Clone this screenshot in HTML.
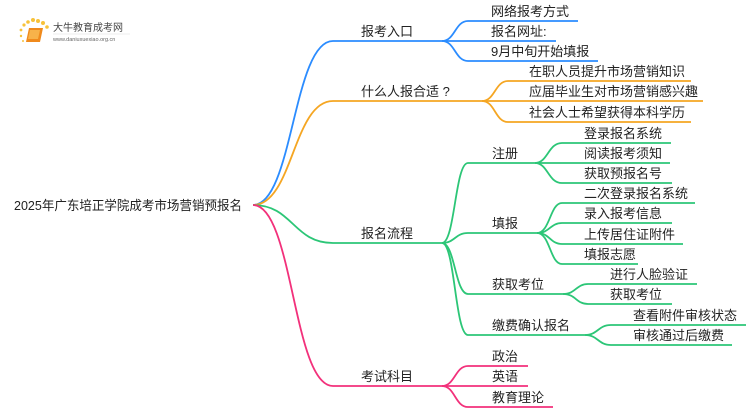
<!DOCTYPE html>
<html><head><meta charset="utf-8"><style>
html,body{margin:0;padding:0;background:#fff;}
svg{display:block;}
text{font-family:"Liberation Sans","Noto Sans CJK SC",sans-serif;font-size:13px;fill:#222;}
</style></head><body>
<svg width="750" height="410" viewBox="0 0 750 410" xmlns="http://www.w3.org/2000/svg">
<g fill="#f7c23a">
<circle cx="24" cy="25" r="1.6"/><circle cx="28" cy="22" r="1.8"/><circle cx="33" cy="20" r="2"/><circle cx="38" cy="21" r="2"/><circle cx="43" cy="23" r="2"/><circle cx="47" cy="27" r="1.8"/><circle cx="21" cy="30" r="1.4"/><circle cx="21" cy="36" r="1.2"/><circle cx="23" cy="41" r="1"/>
</g>
<path d="M29,28 h14 l-3,14 h-14 z" fill="#f08a1c"/>
<path d="M30,30 h10 l-2,9 h-10 z" fill="#f7b24a"/>
<text x="53" y="31" style="font-size:10px;fill:#444">大牛教育成考网</text>
<line x1="53" y1="34" x2="130" y2="34" stroke="#ddd" stroke-width="0.6"/>
<text x="53" y="41" style="font-size:5.5px;fill:#666">www.daniuxuexiao.org.cn</text>

<text x="14" y="210" textLength="228" lengthAdjust="spacingAndGlyphs">2025年广东培正学院成考市场营销预报名</text>

<g fill="none" stroke-width="1.8">
<g stroke="#2b8cff">
<path d="M253,205 C293,205 293,41 333,41 H442"/>
<path d="M442,41 C455,41 455,21 468,21 H578"/>
<path d="M442,41 H556"/>
<path d="M442,41 C455,41 455,61 468,61 H598"/>
</g>
<g stroke="#f5a623">
<path d="M253,205 C293,205 293,101 333,101 H482"/>
<path d="M482,101 C495,101 495,81 508,81 H691"/>
<path d="M482,101 H703"/>
<path d="M482,101 C495,101 495,122 508,122 H691"/>
</g>
<g stroke="#2cc677">
<path d="M253,205 C293,205 293,243 333,243 H442"/>
<path d="M442,243 C455,243 455,163 468,163 H535"/>
<path d="M442,243 C455,243 455,233 468,233 H537"/>
<path d="M442,243 C455,243 455,294 468,294 H563"/>
<path d="M442,243 C455,243 455,335 468,335 H585"/>
<path d="M535,163 C548,163 548,143 562,143 H671"/>
<path d="M535,163 H670"/>
<path d="M535,163 C548,163 548,183 562,183 H672"/>
<path d="M537,233 C550,233 550,203 562,203 H695"/>
<path d="M537,233 C550,233 550,223 562,223 H672"/>
<path d="M537,233 C550,233 550,244 562,244 H683"/>
<path d="M537,233 C550,233 550,264 562,264 H638"/>
<path d="M563,294 C576,294 576,284 588,284 H697"/>
<path d="M563,294 C576,294 576,304 588,304 H672"/>
<path d="M585,335 C598,335 598,325 611,325 H746"/>
<path d="M585,335 C598,335 598,345 611,345 H732"/>
</g>
<g stroke="#f2317b">
<path d="M253,205 C293,205 293,386 333,386 H442"/>
<path d="M442,386 C455,386 455,366 468,366 H528"/>
<path d="M442,386 H528"/>
<path d="M442,386 C455,386 455,407 468,407 H553"/>
</g>
</g>

<text x="361" y="36">报考入口</text>
<text x="491" y="16">网络报考方式</text>
<text x="491" y="36">报名网址:</text>
<text x="491" y="56">9月中旬开始填报</text>

<text x="361" y="96">什么人报合适 ?</text>
<text x="529" y="76">在职人员提升市场营销知识</text>
<text x="529" y="96">应届毕业生对市场营销感兴趣</text>
<text x="529" y="117">社会人士希望获得本科学历</text>

<text x="361" y="238">报名流程</text>
<text x="492" y="158">注册</text>
<text x="584" y="138">登录报名系统</text>
<text x="584" y="158">阅读报考须知</text>
<text x="584" y="178">获取预报名号</text>
<text x="492" y="228">填报</text>
<text x="584" y="198">二次登录报名系统</text>
<text x="584" y="218">录入报考信息</text>
<text x="584" y="239">上传居住证附件</text>
<text x="584" y="259">填报志愿</text>
<text x="492" y="289">获取考位</text>
<text x="610" y="279">进行人脸验证</text>
<text x="610" y="299">获取考位</text>
<text x="492" y="330">缴费确认报名</text>
<text x="633" y="320">查看附件审核状态</text>
<text x="633" y="340">审核通过后缴费</text>

<text x="361" y="381">考试科目</text>
<text x="492" y="361">政治</text>
<text x="492" y="381">英语</text>
<text x="492" y="402">教育理论</text>
</svg>
</body></html>
